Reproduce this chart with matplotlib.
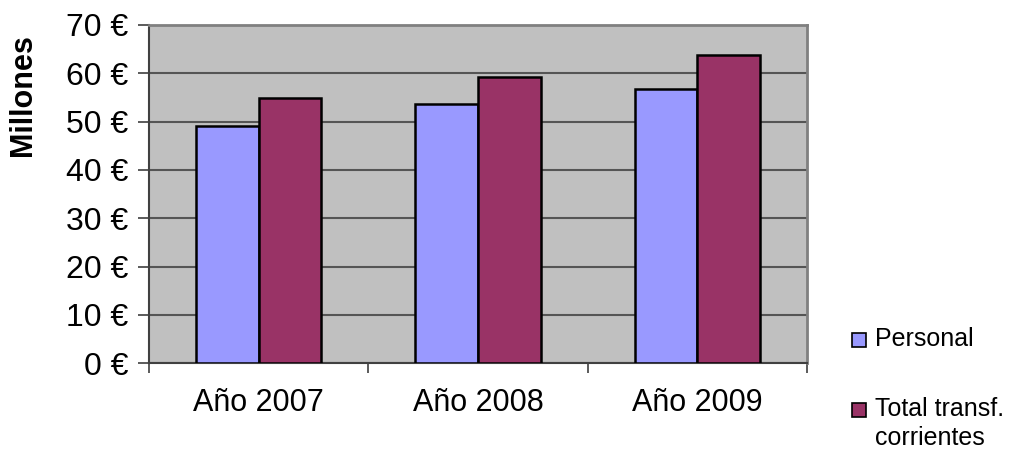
import matplotlib
matplotlib.use("Agg")
import matplotlib.pyplot as plt
from matplotlib.patches import Rectangle
import numpy as np

plt.rcParams['font.family'] = ['Liberation Sans', 'DejaVu Sans']

categories = ["Año 2007", "Año 2008", "Año 2009"]
series_names = ["Personal", "Total transf.\ncorrientes"]
personal = [49.0, 53.6, 56.8]
total_transf = [54.8, 59.3, 63.8]
colors = ["#9999FF", "#993366"]
y_ticks = [0, 10, 20, 30, 40, 50, 60, 70]
y_ticklabels = [f"{v} €" for v in y_ticks]

W, H = 1010, 449
fig = plt.figure(figsize=(W / 100, H / 100), dpi=100)
ax = fig.add_axes([149 / W, 1 - 363.3 / H, (807 - 149) / W, (363.3 - 25) / H])
ax.set_facecolor("#C0C0C0")

x = np.arange(len(categories))
bw = 1 / 3.5
ax.bar(x - bw / 2, personal, bw, color=colors[0], edgecolor="black", linewidth=1.8, zorder=3)
ax.bar(x + bw / 2, total_transf, bw, color=colors[1], edgecolor="black", linewidth=1.8, zorder=3)

ax.set_xlim(-0.5, len(categories) - 0.5)
ax.set_ylim(0, 70)
ax.set_yticks(y_ticks)
ax.set_yticklabels(y_ticklabels, fontsize=23)
ax.set_xticks(x)
ax.set_xticklabels(categories, fontsize=22)
ax.tick_params(axis='x', length=0, pad=18)
ax.set_xticks(np.arange(len(categories) + 1) - 0.5, minor=True)
ax.tick_params(axis='x', which='minor', length=7, width=1.2, color="#404040")
ax.tick_params(axis='y', length=8, width=1.2, color="#404040", pad=7)
ax.yaxis.grid(True, color="#555555", linewidth=1.5, zorder=0)
ax.set_axisbelow(True)
for s in ["top", "right"]:
    ax.spines[s].set_color("#808080")
    ax.spines[s].set_linewidth(2)
for s in ["left", "bottom"]:
    ax.spines[s].set_color("#404040")
    ax.spines[s].set_linewidth(1.5)

fig.text(23 / W, 1 - 95 / H, "Millones", rotation=90, fontsize=22, fontweight="bold",
         ha="center", va="center")

# legend
leg_y = [339, 409]
for name, col, yc in zip(series_names, colors, leg_y):
    fig.patches.append(Rectangle((852 / W, 1 - (yc + 7.5) / H), 14 / W, 14 / H,
                                 transform=fig.transFigure, facecolor=col,
                                 edgecolor="black", linewidth=1.2))
    fig.text(875 / W, 1 - (yc - 12) / H, name, fontsize=18, ha="left", va="top",
             linespacing=1.25)

fig.savefig("out.png", dpi=100)
